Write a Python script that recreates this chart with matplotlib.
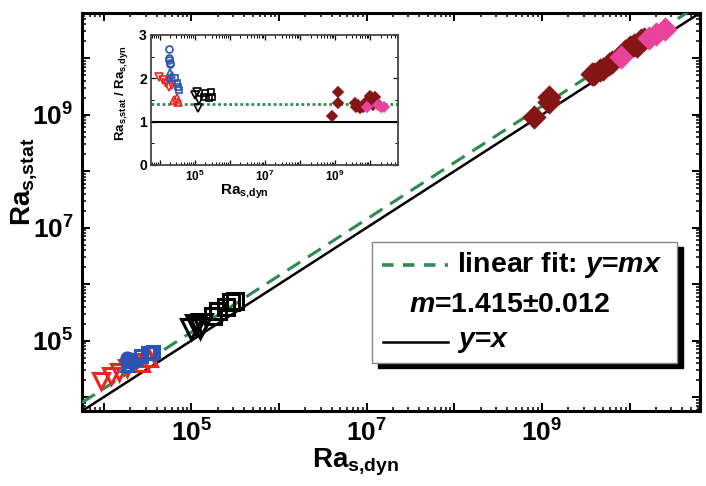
import numpy as np
import matplotlib
matplotlib.use('Agg')
import matplotlib.pyplot as plt
from matplotlib.patches import Rectangle
from matplotlib.lines import Line2D
import matplotlib.transforms as mtransforms
from matplotlib.ticker import LogLocator, FuncFormatter, NullFormatter, MultipleLocator

plt.rcParams['font.family'] = ['Liberation Sans', 'DejaVu Sans']
plt.rcParams['font.weight'] = 'bold'
plt.rcParams['mathtext.fontset'] = 'custom'
plt.rcParams['mathtext.rm'] = 'Liberation Sans:bold'
plt.rcParams['mathtext.it'] = 'Liberation Sans:italic:bold'
plt.rcParams['mathtext.bf'] = 'Liberation Sans:bold'
plt.rcParams['mathtext.default'] = 'rm'

# ---- data: log10(Ra_s,dyn) and ratio Ra_s,stat / Ra_s,dyn ----
blue_circ_logx = [4.26, 4.26, 4.28, 4.30, 4.27]
blue_circ_ratio = [2.68, 2.42, 2.36, 2.33, 2.47]
blue_tri_logx = [4.30, 4.36, 4.26]
blue_tri_ratio = [2.15, 2.08, 2.00]
blue_sq_logx = [4.43, 4.50, 4.53, 4.56]
blue_sq_ratio = [2.00, 1.89, 1.81, 1.72]
red_tdown_logx = [3.97, 4.08, 4.17, 4.26, 4.36]
red_tdown_ratio = [2.04, 1.96, 1.89, 1.81, 1.85]
red_tup_logx = [4.42, 4.50, 4.52]
red_tup_ratio = [1.50, 1.55, 1.46]
blk_tdown_logx = [5.05, 5.00, 5.10, 5.12]
blk_tdown_ratio = [1.69, 1.62, 1.31, 1.50]
blk_sq_logx = [5.30, 5.45, 5.40, 5.50, 5.25]
blk_sq_ratio = [1.66, 1.69, 1.55, 1.58, 1.56]
maroon_logx = [8.91, 9.08, 9.08, 9.57, 9.60, 9.66, 9.70, 9.76, 9.80,
               9.95, 10.00, 10.05, 10.13, 10.17, 10.08]
maroon_ratio = [1.14, 1.69, 1.42, 1.42, 1.34, 1.38, 1.31, 1.36, 1.34,
                1.50, 1.59, 1.55, 1.57, 1.46, 1.38]
pink_logx = [9.90, 10.22, 10.30, 10.40]
pink_ratio = [1.33, 1.38, 1.33, 1.33]

slope = 1.415
slope_err = 0.012
log_range = (3.75, 10.8)
main_label_exps = [5, 7, 9]

BLUE = '#2a55b5'
RED = '#e8281e'
MAROON = '#861516'
PINK = '#e8449c'
GREEN = '#2e8b4f'

series = [
    (red_tdown_logx, red_tdown_ratio, 'v', RED, 'none', 11, 5.5),
    (red_tup_logx, red_tup_ratio, '^', RED, 'none', 11, 5.5),
    (blue_circ_logx, blue_circ_ratio, 'o', BLUE, 'none', 8, 5),
    (blue_tri_logx, blue_tri_ratio, '^', BLUE, 'none', 9, 5),
    (blue_sq_logx, blue_sq_ratio, 's', BLUE, 'none', 8, 4.5),
    (blk_tdown_logx, blk_tdown_ratio, 'v', 'black', 'none', 14, 5.5),
    (blk_sq_logx, blk_sq_ratio, 's', 'black', 'none', 11, 4.5),
    (maroon_logx, maroon_ratio, 'D', MAROON, MAROON, 10, 5),
    (pink_logx, pink_ratio, 'D', PINK, PINK, 10, 5),
]

fig = plt.figure(figsize=(7.06, 4.86), dpi=100)
ax = fig.add_axes([0.116, 0.154, 0.875, 0.819])
ax.set_xscale('log')
ax.set_yscale('log')
lo, hi = 10 ** log_range[0], 10 ** log_range[1]
ax.set_xlim(lo, hi)
ax.set_ylim(lo, hi)

xl = np.array([lo, hi])
ax.plot(xl, xl, color='black', lw=1.8, zorder=2)
ax.plot(xl, slope * xl, color=GREEN, lw=2.2, dashes=(5, 3), zorder=3)

for lx, r, m, c, fc, ms, _ in series:
    x = 10 ** np.array(lx)
    y = np.array(r) * x
    ax.plot(x, y, linestyle='none', marker=m, markersize=ms,
            markeredgecolor=c, markerfacecolor=fc, markeredgewidth=2.2, zorder=4)

def main_fmt(v, pos):
    e = int(round(np.log10(v)))
    return r'$10^{%d}$' % e if e in main_label_exps else ''

for axis in (ax.xaxis, ax.yaxis):
    axis.set_major_locator(LogLocator(base=10, numticks=20))
    axis.set_minor_locator(LogLocator(base=10, subs=np.arange(2, 10), numticks=100))
    axis.set_major_formatter(FuncFormatter(main_fmt))
    axis.set_minor_formatter(NullFormatter())
ax.tick_params(which='both', direction='in', top=True, right=True)
ax.tick_params(which='major', length=6, width=1.4, labelsize=19)
ax.tick_params(which='minor', length=3, width=1.1)
ax.tick_params(axis='x', pad=6)
ax.tick_params(axis='y', pad=6)
for s in ax.spines.values():
    s.set_linewidth(2.2)

ax.set_xlabel(r'Ra$_{\mathrm{s{,}dyn}}$', fontsize=20, fontweight='bold')
ax.set_ylabel(r'Ra$_{\mathrm{s{,}stat}}$', fontsize=20, fontweight='bold')
ax.xaxis.set_label_coords(0.443, -0.09)
ax.yaxis.set_label_coords(-0.07, 0.575)

# ---- legend box (manual) ----
bx0, by0, bw, bh = 0.469, 0.121, 0.494, 0.304
shadow_tr = mtransforms.offset_copy(ax.transAxes, fig=fig, x=4.3, y=-3.6, units='points')
ax.add_patch(Rectangle((bx0, by0), bw, bh, transform=shadow_tr, facecolor='black',
                       edgecolor='black', zorder=8))
ax.add_patch(Rectangle((bx0, by0), bw, bh, transform=ax.transAxes, facecolor='white',
                       edgecolor='#888888', lw=1.0, zorder=9))
ax.add_line(Line2D([0.485, 0.592], [0.367, 0.367], transform=ax.transAxes, color=GREEN,
                   lw=2.6, dashes=(3.2, 2.6), zorder=10))
ax.text(0.607, 0.367, r'linear fit: $\mathit{y}$=$\mathit{mx}$', transform=ax.transAxes,
        fontsize=20.5, fontweight='bold', va='center', ha='left', zorder=10)
ax.text(0.530, 0.267, r'$\mathit{m}$=%.3f±%.3f' % (slope, slope_err), transform=ax.transAxes,
        fontsize=20.5, fontweight='bold', va='center', ha='left', zorder=10)
ax.add_line(Line2D([0.487, 0.592], [0.173, 0.173], transform=ax.transAxes, color='black',
                   lw=1.8, zorder=10))
ax.text(0.607, 0.173, r'$\mathit{y}$=$\mathit{x}$', transform=ax.transAxes,
        fontsize=20.5, fontweight='bold', va='center', ha='left', zorder=10)

# ---- inset ----
axin = fig.add_axes([0.2139, 0.6605, 0.350, 0.2675])
axin.set_xscale('log')
axin.set_xlim(lo, hi)
axin.set_ylim(0, 3)
axin.axhline(1.0, color='black', lw=1.5, zorder=2)
axin.axhline(slope, color=GREEN, lw=2.0, linestyle=(0, (1, 1)), zorder=2)
for lx, r, m, c, fc, _, ms in series:
    axin.plot(10 ** np.array(lx), r, linestyle='none', marker=m, markersize=ms,
              markeredgecolor=c, markerfacecolor=fc, markeredgewidth=1.2, zorder=4)
axin.xaxis.set_major_locator(LogLocator(base=10, numticks=20))
axin.xaxis.set_minor_locator(LogLocator(base=10, subs=np.arange(2, 10), numticks=100))
axin.xaxis.set_major_formatter(FuncFormatter(main_fmt))
axin.xaxis.set_minor_formatter(NullFormatter())
axin.yaxis.set_major_locator(MultipleLocator(1))
axin.yaxis.set_minor_locator(MultipleLocator(0.5))
axin.tick_params(which='both', direction='in', top=True, right=True)
axin.tick_params(which='major', length=3.5, width=0.9)
axin.tick_params(which='minor', length=2, width=0.7)
axin.tick_params(axis='x', labelsize=8.5, pad=3)
axin.tick_params(axis='y', labelsize=10, pad=3)
for s in axin.spines.values():
    s.set_linewidth(1.3)
    s.set_color('#444444')
axin.set_xlabel(r'Ra$_{\mathrm{s{,}dyn}}$', fontsize=11, fontweight='bold')
axin.set_ylabel(r'Ra$_{\mathrm{s{,}stat}}$ / Ra$_{\mathrm{s{,}dyn}}$', fontsize=9.5, fontweight='bold')
axin.xaxis.set_label_coords(0.38, -0.14)
axin.yaxis.set_label_coords(-0.085, 0.55)

fig.savefig('out.png', dpi=100)
